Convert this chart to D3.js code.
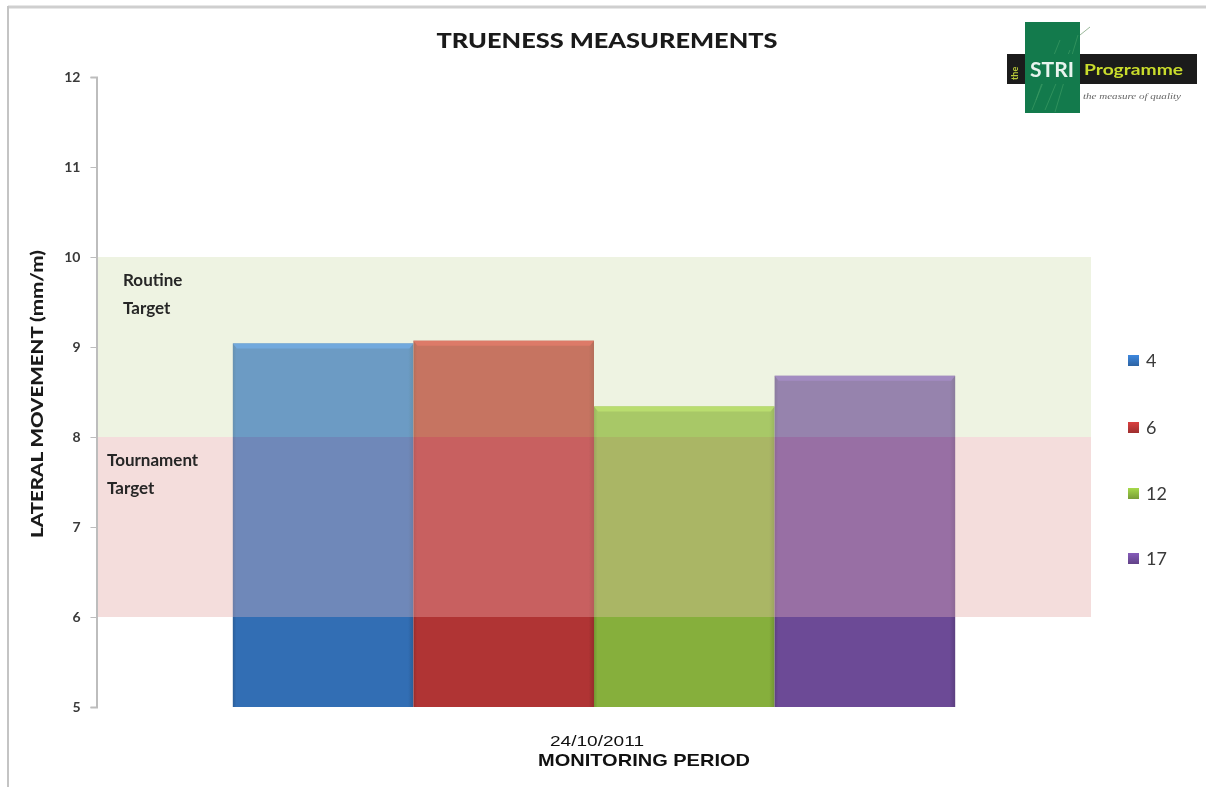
<!DOCTYPE html>
<html>
<head>
<meta charset="utf-8">
<script src="https://cdn.jsdelivr.net/npm/d3@7"></script>
<style>
  html, body { margin: 0; padding: 0; background: #fff; }
  svg { display: block; }
</style>
</head>
<body>
<svg id="chart" width="1206" height="787" font-family="Lato, 'Open Sans', sans-serif"></svg>
<script>
// Trueness readings for one monitoring visit, one bar per green
const periods = ["24/10/2011"];
const seriesNames = ["4", "6", "12", "17"];
const seriesValues = [9.04, 9.07, 8.34, 8.68];
const seriesColors = ["#326eb4", "#b03434", "#86af3c", "#6c4a96"];
const yTicks = [5, 6, 7, 8, 9, 10, 11, 12];
const bandNames = [["Routine", "Target"], ["Tournament", "Target"]];
const bandLows = [8, 6];
const bandHighs = [10, 8];

const svg = d3.select("#chart");
const plot = { left: 97, right: 1091, top: 77, bottom: 707 };

const y = d3.scaleLinear().domain([5, 12]).range([plot.bottom, plot.top]);
const x0 = d3.scaleBand().domain(periods).range([plot.left, plot.right])
  .paddingInner(0).paddingOuter(0.188);
const x1 = d3.scaleBand().domain(seriesNames).range([0, x0.bandwidth()]).padding(0);

// Page frame
svg.append("line").attr("x1", 8).attr("x2", 1206).attr("y1", 7).attr("y2", 7)
  .attr("stroke", "#cfcfcf").attr("stroke-width", 3);
svg.append("line").attr("x1", 8).attr("x2", 8).attr("y1", 6).attr("y2", 787)
  .attr("stroke", "#c4c4c4").attr("stroke-width", 2);

// Gradients
const defs = svg.append("defs");
seriesColors.forEach((c, i) => {
  const g = defs.append("linearGradient").attr("id", "barGrad" + i)
    .attr("x1", 0).attr("x2", 1).attr("y1", 0).attr("y2", 0);
  const dark = d3.color(c).darker(0.45);
  g.append("stop").attr("offset", "0%").attr("stop-color", dark);
  g.append("stop").attr("offset", "2%").attr("stop-color", c);
  g.append("stop").attr("offset", "97%").attr("stop-color", c);
  g.append("stop").attr("offset", "100%").attr("stop-color", dark);
  const v = defs.append("linearGradient").attr("id", "legGrad" + i)
    .attr("x1", 0).attr("x2", 0).attr("y1", 0).attr("y2", 1);
  v.append("stop").attr("offset", "0%").attr("stop-color", d3.color(c).brighter(0.6));
  v.append("stop").attr("offset", "100%").attr("stop-color", d3.color(c).darker(0.3));
});

// Target band backgrounds (behind the bars)
const bandBack = ["rgb(232,238,218)", "rgb(239,231,230)"];
svg.append("g").selectAll("rect").data(bandNames).join("rect")
  .attr("x", plot.left).attr("width", plot.right - plot.left)
  .attr("y", (d, i) => y(bandHighs[i]))
  .attr("height", (d, i) => y(bandLows[i]) - y(bandHighs[i]))
  .attr("fill", (d, i) => bandBack[i]);

// Bars
const barG = svg.append("g").selectAll("g").data(periods).join("g")
  .attr("transform", d => `translate(${x0(d)},0)`);
barG.selectAll("rect.bar").data(seriesNames).join("rect").attr("class", "bar")
  .attr("x", d => x1(d)).attr("width", x1.bandwidth())
  .attr("y", (d, i) => y(seriesValues[i]))
  .attr("height", (d, i) => y(5) - y(seriesValues[i]))
  .attr("fill", (d, i) => `url(#barGrad${i})`);
// bevelled top edge
barG.selectAll("path.bevel").data(seriesNames).join("path").attr("class", "bevel")
  .attr("d", (d, i) => {
    const xa = x1(d), xb = x1(d) + x1.bandwidth(), yt = y(seriesValues[i]);
    return `M${xa},${yt}L${xb},${yt}L${xb - 4},${yt + 5}L${xa + 4},${yt + 5}Z`;
  })
  .attr("fill", (d, i) => d3.color(seriesColors[i]).brighter(0.45));

// Target band overlays (tint the bars that pass through them)
svg.append("rect")
  .attr("x", plot.left).attr("width", plot.right - plot.left)
  .attr("y", y(bandHighs[0])).attr("height", y(bandLows[0]) - y(bandHighs[0]))
  .attr("fill", "rgb(72,80,56)").style("mix-blend-mode", "screen");
svg.append("rect")
  .attr("x", plot.left).attr("width", plot.right - plot.left)
  .attr("y", y(bandHighs[1])).attr("height", y(bandLows[1]) - y(bandHighs[1]))
  .attr("fill", "rgb(255,200,200)").attr("fill-opacity", 0.3);

// Band captions
const capX = [123, 107];
const capY = [286, 466];
bandNames.forEach((lines, i) => {
  lines.forEach((ln, j) => {
    svg.append("text").attr("x", capX[i]).attr("y", capY[i] + j * 28)
      .attr("font-size", 17).attr("font-weight", 700).attr("fill", "#262626")
      .text(ln);
  });
});

// Y axis
const yAxis = d3.axisLeft(y).tickValues(yTicks).tickFormat(d3.format("d"))
  .tickSize(6).tickPadding(10);
const ya = svg.append("g").attr("transform", `translate(${plot.left - 0.5},0)`).call(yAxis);
ya.select(".domain").attr("stroke", "#bdbdbd").attr("stroke-width", 2);
ya.selectAll(".tick line").attr("stroke", "#bdbdbd");
ya.selectAll(".tick text").style("font-family", "Lato, sans-serif")
  .attr("font-size", 14).attr("font-weight", 700).attr("fill", "#3a3a3a");

// X axis label (category)
svg.append("g").selectAll("text").data(periods).join("text")
  .attr("x", d => x0(d) + x0.bandwidth() / 2 + 3).attr("y", 746)
  .attr("text-anchor", "middle").attr("font-size", 15)
  .style("font-family", "'Liberation Sans', sans-serif").attr("fill", "#111")
  .attr("textLength", 94).attr("lengthAdjust", "spacingAndGlyphs")
  .text(d => d);

// Titles
svg.append("text").attr("x", 607).attr("y", 48).attr("text-anchor", "middle")
  .attr("font-size", 21).attr("font-weight", 900).attr("fill", "#1a1a1a")
  .attr("textLength", 341).attr("lengthAdjust", "spacingAndGlyphs")
  .text("TRUENESS MEASUREMENTS");
svg.append("text").attr("x", 644).attr("y", 766).attr("text-anchor", "middle")
  .attr("font-size", 17).attr("font-weight", 700).attr("fill", "#111")
  .style("font-family", "'Liberation Sans', sans-serif")
  .attr("textLength", 212).attr("lengthAdjust", "spacingAndGlyphs")
  .text("MONITORING PERIOD");
svg.append("text").attr("transform", "translate(43,394) rotate(-90)")
  .attr("text-anchor", "middle").attr("font-size", 17).attr("font-weight", 900)
  .attr("fill", "#1a1a1a").attr("textLength", 288).attr("lengthAdjust", "spacingAndGlyphs")
  .text("LATERAL MOVEMENT (mm/m)");

// Legend
const legY = [361, 428, 494, 559];
const leg = svg.append("g").selectAll("g").data(seriesNames).join("g")
  .attr("transform", (d, i) => `translate(1128,${legY[i]})`);
leg.append("rect").attr("x", 0).attr("y", -6).attr("width", 11).attr("height", 11)
  .attr("fill", (d, i) => `url(#legGrad${i})`);
leg.append("text").attr("x", 18).attr("y", 6).attr("font-size", 18)
  .attr("fill", "#3a3a3a").text(d => d);

// Programme logo
const logo = svg.append("g");
logo.append("rect").attr("x", 1025).attr("y", 22).attr("width", 55).attr("height", 91)
  .attr("fill", "#137a4c");
[[1032, 110, 1060, 40], [1045, 110, 1070, 50], [1055, 112, 1078, 35], [1036, 100, 1050, 60]]
  .forEach(p => logo.append("line").attr("x1", p[0]).attr("y1", p[1]).attr("x2", p[2]).attr("y2", p[3])
    .attr("stroke", "#3b9a63").attr("stroke-width", 1).attr("opacity", 0.7));
logo.append("line").attr("x1", 1080).attr("y1", 35).attr("x2", 1090).attr("y2", 27)
  .attr("stroke", "#9ab89a").attr("stroke-width", 1);
logo.append("rect").attr("x", 1007).attr("y", 54).attr("width", 190).attr("height", 30)
  .attr("fill", "#1b1b1b");
logo.append("rect").attr("x", 1025).attr("y", 54).attr("width", 55).attr("height", 30)
  .attr("fill", "#137a4c");
logo.append("text").attr("transform", "translate(1018,80) rotate(-90)")
  .attr("font-size", 9).attr("font-weight", 700).attr("fill", "#b8c838").text("the");
logo.append("text").attr("x", 1030).attr("y", 77).attr("font-size", 20).attr("font-weight", 700)
  .attr("fill", "#e8f4ee").attr("textLength", 44).attr("lengthAdjust", "spacingAndGlyphs").text("STRI");
logo.append("text").attr("x", 1084).attr("y", 75).attr("font-size", 15).attr("font-weight", 700)
  .attr("fill", "#c9dc2c").attr("textLength", 99).attr("lengthAdjust", "spacingAndGlyphs").text("Programme");
logo.append("text").attr("x", 1083).attr("y", 99).attr("font-size", 8).attr("font-style", "italic")
  .style("font-family", "'Liberation Serif', serif").attr("fill", "#666")
  .attr("textLength", 98).attr("lengthAdjust", "spacingAndGlyphs").text("the measure of quality");
</script>
</body>
</html>
